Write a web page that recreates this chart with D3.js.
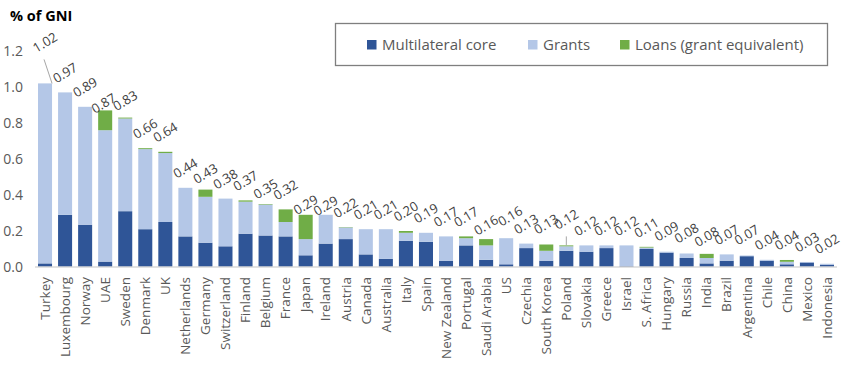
<!DOCTYPE html>
<html>
<head>
<meta charset="utf-8">
<script src="https://cdn.jsdelivr.net/npm/d3@7"></script>
<style>
  html, body { margin: 0; padding: 0; background: #fff; }
  svg { display: block; font-family: "Open Sans", "Noto Sans", sans-serif; }
</style>
</head>
<body>
<div id="chart"></div>
<script>
// ODA by donor, % of GNI, stacked by channel

const countries = ["Turkey", "Luxembourg", "Norway", "UAE", "Sweden", "Denmark", "UK",
  "Netherlands", "Germany", "Switzerland", "Finland", "Belgium", "France", "Japan",
  "Ireland", "Austria", "Canada", "Australia", "Italy", "Spain", "New Zealand",
  "Portugal", "Saudi Arabia", "US", "Czechia", "South Korea", "Poland", "Slovakia",
  "Greece", "Israel", "S. Africa", "Hungary", "Russia", "India", "Brazil",
  "Argentina", "Chile", "China", "Mexico", "Indonesia"];

const multilateral = [0.02, 0.29, 0.235, 0.03, 0.31, 0.21, 0.25, 0.17, 0.135, 0.115,
  0.185, 0.175, 0.17, 0.065, 0.13, 0.155, 0.07, 0.045, 0.145, 0.14, 0.035, 0.12,
  0.04, 0.015, 0.105, 0.035, 0.09, 0.085, 0.105, 0.005, 0.1, 0.08, 0.05, 0.02,
  0.035, 0.06, 0.035, 0.015, 0.025, 0.013];

const grants = [1.0, 0.68, 0.655, 0.73, 0.515, 0.445, 0.383, 0.27, 0.255, 0.265,
  0.178, 0.172, 0.08, 0.09, 0.16, 0.065, 0.14, 0.165, 0.045, 0.05, 0.135, 0.04,
  0.08, 0.145, 0.025, 0.055, 0.025, 0.035, 0.015, 0.115, 0.008, 0.005, 0.025, 0.03,
  0.035, 0.004, 0.005, 0.014, 0.003, 0.005];

const loans = [0, 0, 0, 0.11, 0.005, 0.005, 0.007, 0, 0.04, 0, 0.007, 0.003, 0.07,
  0.135, 0, 0.002, 0, 0, 0.01, 0, 0, 0.01, 0.035, 0, 0, 0.035, 0.005, 0, 0, 0,
  0.004, 0, 0, 0.023, 0, 0, 0, 0.01, 0, 0];

const totals = [1.02, 0.97, 0.89, 0.87, 0.83, 0.66, 0.64, 0.44, 0.43, 0.38, 0.37,
  0.35, 0.32, 0.29, 0.29, 0.22, 0.21, 0.21, 0.20, 0.19, 0.17, 0.17, 0.16, 0.16, 0.13,
  0.13, 0.12, 0.12, 0.12, 0.12, 0.11, 0.09, 0.08, 0.08, 0.07, 0.07, 0.04, 0.04, 0.03,
  0.02];

const seriesNames = ["Multilateral core", "Grants", "Loans (grant equivalent)"];
const yTicks = [0, 0.2, 0.4, 0.6, 0.8, 1.0, 1.2];

const width = 845, height = 385;
const m = { top: 51, right: 8, bottom: 118, left: 35 };
const colors = ["#2f5597", "#b4c7e7", "#70ad47"];
const TXT = "#595959";

const rows = countries.map((c, i) => ({
  country: c, s0: multilateral[i], s1: grants[i], s2: loans[i], total: totals[i],
}));

const svg = d3.select("#chart").append("svg")
  .attr("width", width).attr("height", height);

const x = d3.scaleBand()
  .domain(countries)
  .range([m.left, width - m.right])
  .paddingInner(0.3).paddingOuter(0.15);
const y = d3.scaleLinear().domain([0, 1.2]).range([height - m.bottom, m.top]);

// title
svg.append("text")
  .attr("x", 10).attr("y", 21)
  .attr("fill", "#000").style("font-size", "14.5px").style("font-weight", 700)
  .text("% of GNI");

// y axis labels only
svg.append("g")
  .attr("transform", `translate(${m.left},0)`)
  .call(d3.axisLeft(y).tickValues(yTicks).tickFormat(d3.format(".1f")).tickSize(0).tickPadding(12))
  .call((g) => g.select(".domain").remove())
  .selectAll("text").attr("fill", TXT).style("font-size", "14px")
  .style("font-family", "'Open Sans', sans-serif");

// stacked bars
const stack = d3.stack().keys(["s0", "s1", "s2"]);
svg.append("g").selectAll("g").data(stack(rows)).join("g")
  .attr("fill", (d, i) => colors[i])
  .selectAll("rect").data((d) => d).join("rect")
  .attr("x", (d) => x(d.data.country))
  .attr("width", x.bandwidth())
  .attr("y", (d) => y(d[1]))
  .attr("height", (d) => y(d[0]) - y(d[1]));

// x axis
svg.append("g")
  .attr("transform", `translate(0,${y(0)})`)
  .call(d3.axisBottom(x).tickSize(0).tickPadding(10))
  .call((g) => g.select(".domain").attr("stroke", "#d9d9d9").attr("stroke-width", 1.5)
    .attr("d", `M${m.left},0H${width - m.right}`))
  .selectAll("text")
  .attr("fill", TXT).style("font-size", "13.5px")
  .style("font-family", "'Open Sans', sans-serif")
  .attr("text-anchor", "end")
  .attr("transform", "rotate(-90)")
  .attr("x", -10).attr("y", 0).attr("dy", "0.35em");

// total labels, a few nudged like the original
const lift = { "Turkey": 41, "UAE": 7, "Japan": 10, "Ireland": 9, "Saudi Arabia": 13,
  "US": 22, "Poland": 26, "Sweden": 17, "Belgium": 15, "Germany": 16, "India": 16 };
const shift = { "US": 4, "UAE": -1.5 };
const leaders = ["Turkey", "Poland"];

const lab = svg.append("g");
rows.forEach((r) => {
  const cx = x(r.country) + x.bandwidth() / 2 + (shift[r.country] || 0);
  const top = y(r.total);
  const ly = top - (lift[r.country] ?? 19.5);
  if (leaders.includes(r.country)) {
    const sx = r.country === "Turkey" ? cx + x.bandwidth() / 2 : cx;
    lab.append("line")
      .attr("x1", sx).attr("y1", top)
      .attr("x2", r.country === "Turkey" ? cx - 1 : cx).attr("y2", ly + 17)
      .attr("stroke", "#a6a6a6").attr("stroke-width", 1);
  }
  lab.append("text")
    .attr("transform", `translate(${cx},${ly}) rotate(-31)`)
    .attr("text-anchor", "middle").attr("dy", "0.35em")
    .attr("fill", "#404040").style("font-size", "13px")
    .text(d3.format(".2f")(r.total));
});

// legend
const lg = svg.append("g");
lg.append("rect")
  .attr("x", 335.5).attr("y", 23.5).attr("width", 492).attr("height", 42)
  .attr("fill", "#fff").attr("stroke", "#7f7f7f").attr("stroke-width", 1.3);
const legX = [367, 528, 620];
seriesNames.forEach((s, i) => {
  lg.append("rect")
    .attr("x", legX[i]).attr("y", 40).attr("width", 9.5).attr("height", 9.5)
    .attr("fill", colors[i]);
  lg.append("text")
    .attr("x", legX[i] + 15).attr("y", 45).attr("dy", "0.35em")
    .attr("fill", TXT).style("font-size", "15px")
    .text(s);
});
</script>
</body>
</html>
